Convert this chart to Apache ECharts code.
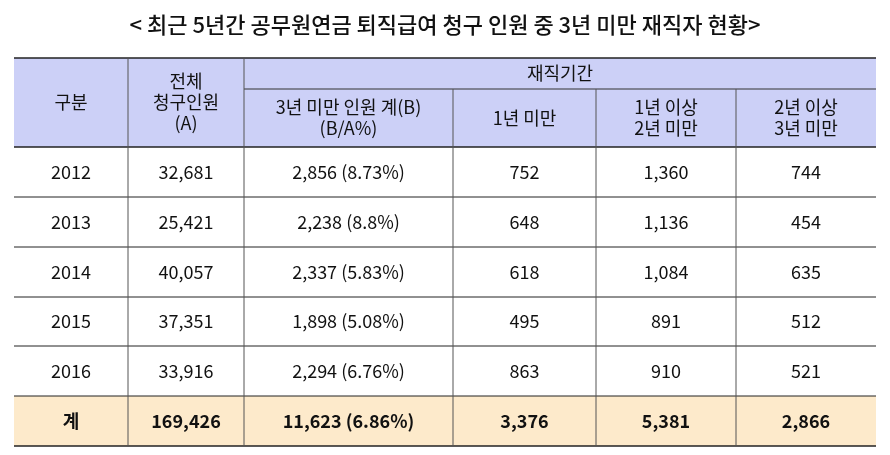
<!DOCTYPE html>
<html><head><meta charset="utf-8">
<script src="https://cdn.jsdelivr.net/npm/echarts@6/dist/echarts.min.js"></script>
<style>html,body{margin:0;padding:0;background:#fff}#c{width:890px;height:455px}</style>
</head><body><div id="c"></div>
<script>
const title = '< 최근 5년간 공무원연금 퇴직급여 청구 인원 중 3년 미만 재직자 현황>';
const years = ['2012','2013','2014','2015','2016','계'];
const totalClaims = ['32,681','25,421','40,057','37,351','33,916','169,426'];
const under3 = ['2,856 (8.73%)','2,238 (8.8%)','2,337 (5.83%)','1,898 (5.08%)','2,294 (6.76%)','11,623 (6.86%)'];
const under1 = ['752','648','618','495','863','3,376'];
const y1to2 = ['1,360','1,136','1,084','891','910','5,381'];
const y2to3 = ['744','454','635','512','521','2,866'];
const headTop = ['구분','전체\n청구인원\n(A)','재직기간'];
const headSub = ['3년 미만 인원 계(B)\n(B/A%)','1년 미만','1년 이상\n2년 미만','2년 이상\n3년 미만'];

const cols = [14,128,244,453,596,736,876];
const rowsY = [58,89,147,197,247,297,346,396,446];
const font = '"Noto Sans CJK KR", sans-serif';
const g = [];
function rect(x1,y1,x2,y2,fill){g.push({type:'rect',shape:{x:x1,y:y1,width:x2-x1,height:y2-y1},style:{fill:fill,stroke:null},silent:true});}
function line(x1,y1,x2,y2,c,w){g.push({type:'line',shape:{x1,y1,x2,y2},style:{stroke:c,lineWidth:w||1},silent:true});}
function txt(s,cx,cy,size,bold){g.push({type:'text',x:cx,y:cy,style:{text:s,font:(bold?'bold ':'')+size+'px '+font,fill:'#111',align:'center',verticalAlign:'middle',lineHeight:size+3},silent:true});}

rect(cols[0],rowsY[0],cols[6],rowsY[2],'#ccd0f7');
rect(cols[0],rowsY[7],cols[6],rowsY[8],'#fdeacb');
txt(headTop[0],(cols[0]+cols[1])/2,(rowsY[0]+rowsY[2])/2,18);
txt(headTop[1],(cols[1]+cols[2])/2,(rowsY[0]+rowsY[2])/2,18);
txt(headTop[2],(cols[2]+cols[6])/2,(rowsY[0]+rowsY[1])/2,18);
headSub.forEach((s,i)=>txt(s,(cols[i+2]+cols[i+3])/2,(rowsY[1]+rowsY[2])/2,18));
const data=[years,totalClaims,under3,under1,y1to2,y2to3];
for(let r=0;r<6;r++){
  const cy=(rowsY[r+2]+rowsY[r+3])/2;
  data.forEach((arr,c)=>txt(arr[r],(cols[c]+cols[c+1])/2,cy,18,r===5));
}
rowsY.forEach((y,i)=>{ if(i===1) line(cols[2],y,cols[6],y,'#333',1); else line(cols[0],y,cols[6],y,'#222',i===0||i===8||i===2?1.5:1);});
cols.forEach((x,i)=>{
  if(i===0||i===6) return;
  const top = (i>=3)? rowsY[1] : rowsY[0];
  line(x,top,x,rowsY[8],'#555',1);
});
g.push({type:'text',x:445,y:25,style:{text:title,font:'500 22px '+font,fill:'#111',align:'center',verticalAlign:'middle'},silent:true});
const chart=echarts.init(document.getElementById('c'));
chart.setOption({animation:false,graphic:g});
</script></body></html>
